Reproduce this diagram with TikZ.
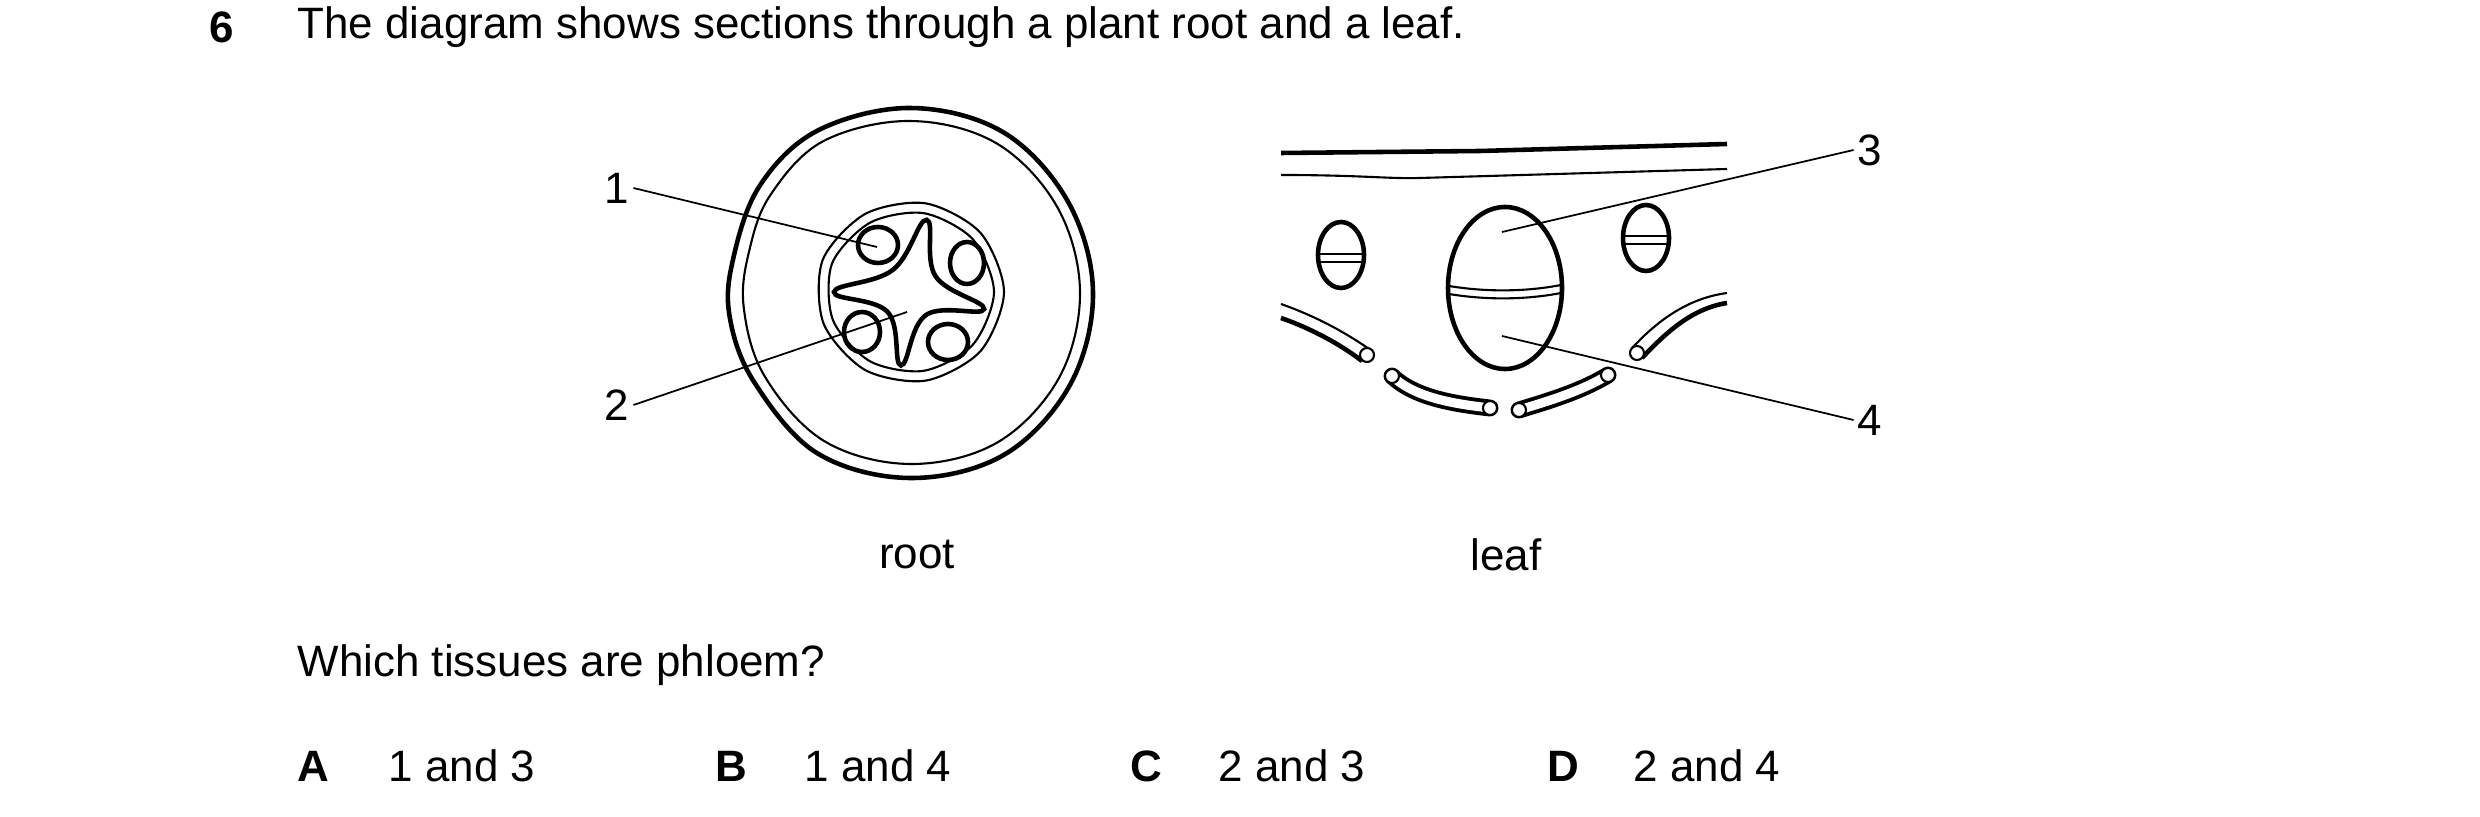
\documentclass[tikz,border=0pt]{standalone}
\usepackage{fontspec}
\setmainfont{Liberation Sans}
\usetikzlibrary{calc,positioning}
\tikzset{%
  outline/.style={line width=1.3pt},
  wall/.style={line width=0.6pt},
  pointer/.style={line width=0.5pt},
  num/.style={font=\fontsize{12.5}{15}\selectfont, inner sep=1pt},
  caption/.style={font=\fontsize{12.5}{15}\selectfont, anchor=west, inner sep=0pt},
  tube/.style={line width=1.1pt, double=white, double distance=2.6pt, line cap=round},
  tube end/.style={line width=0.6pt, fill=white}
}
\begin{document}
\begin{tikzpicture}[x=0.1mm, y=-0.1mm]
 \useasboundingbox (0,0) rectangle (2480,817);

 % question
 \node[caption, font=\fontsize{12.5}{15}\selectfont\bfseries] (qn) at (209,27) {6};
 \node[caption] (qtext) at (297,27) {The diagram shows sections through a plant root and a leaf.};

 % root
 \begin{scope}[shift={(910,292)}]
  \draw[outline] plot[smooth cycle, tension=0.6] coordinates {
    (0:183) (30:185) (60:188) (90:186) (120:186) (150:180) (172:182)
    (190:180) (215:184) (240:186) (270:184) (300:185) (330:182)};
  \draw[wall] plot[smooth cycle, tension=0.6] coordinates {
    (0:170) (30:172) (60:174) (90:172) (120:172) (150:168) (175:167)
    (195:166) (215:170) (240:174) (270:171) (300:172) (330:170)};
  \draw[wall] plot[smooth cycle, tension=0.5] coordinates {
    (0:94) (40:92) (80:90) (120:90) (160:92) (200:93) (240:90) (280:90) (320:92)};
  \draw[wall] plot[smooth cycle, tension=0.5] coordinates {
    (0:84) (40:82) (80:80) (120:80) (160:82) (200:83) (240:80) (280:80) (320:82)};
  % xylem
  \draw[outline] plot[smooth cycle, tension=0.7] coordinates {
    (13:76) (55:28) (97:74) (138:30) (180:76) (232:28) (283:74) (328:30)};
  % phloem
  \draw[outline] (-32,-47) ellipse [x radius=2mm, y radius=1.8mm];
  \draw[outline] (57,-29) ellipse [x radius=1.7mm, y radius=2.1mm];
  \draw[outline] (-48,40) ellipse [x radius=1.8mm, y radius=2mm];
  \draw[outline] (38,50) ellipse [x radius=2mm, y radius=1.8mm];
 \end{scope}
 \coordinate (p1) at (877,247);
 \coordinate (p2) at (907,312);
 \node[num] (l1) at (617,188) {1};
 \node[num] (l2) at (617,405) {2};
 \draw[pointer] (l1.east) -- (p1);
 \draw[pointer] (l2.east) -- (p2);
 \node[num] (root) at (917,555) {root};

 % leaf
 \draw[outline] (1281,153) -- (1480,151) -- (1727,144);
 \draw[wall] (1281,175) .. controls (1360,175) and (1390,179) .. (1420,178) -- (1727,169);
 \begin{scope}[wall]
  \draw[outline] (1341,255) ellipse [x radius=2.3mm, y radius=3.3mm];
  \draw (1318,254) -- (1364,254) (1318,262) -- (1364,262);
  \draw[outline] (1505,288) ellipse [x radius=5.7mm, y radius=8.1mm];
  \draw (1449,286) .. controls (1485,292) and (1525,292) .. (1561,285);
  \draw (1449,294) .. controls (1485,300) and (1525,300) .. (1561,293);
  \draw[outline] (1646,238) ellipse [x radius=2.3mm, y radius=3.3mm];
  \draw (1623,236) -- (1669,236) (1623,244) -- (1669,244);
 \end{scope}
 \draw[wall] (1281,304) .. controls (1315,316) and (1345,332) .. (1372,351);
 \draw[outline] (1281,318) .. controls (1310,328) and (1340,344) .. (1362,361);
 \draw[tube end] (1367,355) circle [radius=0.7mm];
 \draw[tube] (1392,376) .. controls (1415,398) and (1455,404) .. (1490,408);
 \draw[tube end] (1392,376) circle [radius=0.7mm] (1490,408) circle [radius=0.7mm];
 \draw[tube] (1519,410) .. controls (1545,402) and (1580,392) .. (1608,375);
 \draw[tube end] (1519,410) circle [radius=0.7mm] (1608,375) circle [radius=0.7mm];
 \draw[wall] (1632,348) .. controls (1660,318) and (1690,298) .. (1727,293);
 \draw[outline] (1642,358) .. controls (1670,328) and (1695,308) .. (1727,303);
 \draw[tube end] (1637,353) circle [radius=0.7mm];
 \coordinate (p3) at (1502,232);
 \coordinate (p4) at (1502,336);
 \node[num] (l3) at (1870,150) {3};
 \node[num] (l4) at (1870,420) {4};
 \draw[pointer] (l3.west) -- (p3);
 \draw[pointer] (l4.west) -- (p4);
 \node[num] (leaf) at (1506,555) {leaf};

 % options
 \node[caption] (ask) at (297,665) {Which tissues are phloem?};
 \node[caption, font=\fontsize{12.5}{15}\selectfont\bfseries] (optA) at (297,766) {A};
 \node[caption] (ansA) at (388,766) {1 and 3};
 \node[caption, font=\fontsize{12.5}{15}\selectfont\bfseries] (optB) at (715,766) {B};
 \node[caption] (ansB) at (804,766) {1 and 4};
 \node[caption, font=\fontsize{12.5}{15}\selectfont\bfseries] (optC) at (1130,766) {C};
 \node[caption] (ansC) at (1218,766) {2 and 3};
 \node[caption, font=\fontsize{12.5}{15}\selectfont\bfseries] (optD) at (1547,766) {D};
 \node[caption] (ansD) at (1633,766) {2 and 4};
\end{tikzpicture}
\end{document}
